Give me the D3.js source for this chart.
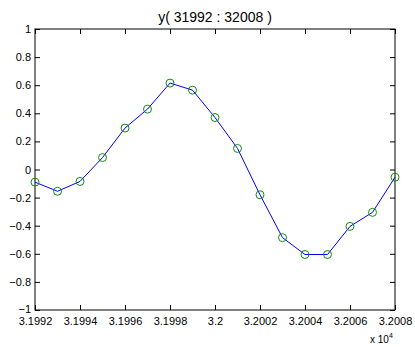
<!DOCTYPE html>
<html>
<head>
<meta charset="utf-8">
<script src="https://cdn.jsdelivr.net/npm/d3@7"></script>
<style>
  html, body { margin: 0; padding: 0; background: #fff; }
  svg { display: block; font-family: "Liberation Sans", Arial, sans-serif; }
</style>
</head>
<body>
<div id="chart"></div>
<script>
// sample index and value
const xs = [31992, 31993, 31994, 31995, 31996, 31997, 31998, 31999, 32000,
            32001, 32002, 32003, 32004, 32005, 32006, 32007, 32008];
const ys = [-0.09, -0.155, -0.085, 0.085, 0.295, 0.43, 0.615, 0.565, 0.37,
            0.15, -0.18, -0.485, -0.605, -0.605, -0.405, -0.305, -0.055];
const xTicks = [31992, 31994, 31996, 31998, 32000, 32002, 32004, 32006, 32008];
const yTicks = [-1, -0.8, -0.6, -0.4, -0.2, 0, 0.2, 0.4, 0.6, 0.8, 1];
const titleText = "y( 31992 : 32008 )";

const width = 415, height = 347;
const margin = { top: 29, right: 20, bottom: 37, left: 35 };

const svg = d3.select("#chart").append("svg")
  .attr("width", width)
  .attr("height", height);

const x = d3.scaleLinear()
  .domain([31992, 32008])
  .range([margin.left, width - margin.right]);

const y = d3.scaleLinear()
  .domain([-1, 1])
  .range([height - margin.bottom, margin.top]);

// matlab style minus sign
const fmtY = d => (d < 0 ? "\u2212" : "") + d3.format("")(Math.abs(+d.toFixed(1)));
const fmtX = d => String(+(d / 1e4).toFixed(4));

const tickLen = 5;
const fontSize = 11;

// bottom axis
svg.append("g")
  .attr("transform", `translate(0,${y(-1)})`)
  .call(d3.axisBottom(x).tickValues(xTicks).tickFormat(fmtX).tickSizeInner(-tickLen).tickSizeOuter(0).tickPadding(5))
  .call(g => g.select(".domain").remove())
  .call(g => g.selectAll("text").attr("font-size", fontSize).attr("fill", "#000").attr("dy", "0.9em"));

// top axis ticks
svg.append("g")
  .attr("transform", `translate(0,${y(1)})`)
  .call(d3.axisTop(x).tickValues(xTicks).tickFormat("").tickSizeInner(-tickLen).tickSizeOuter(0))
  .call(g => g.select(".domain").remove());

// left axis
svg.append("g")
  .attr("transform", `translate(${x(31992)},0)`)
  .call(d3.axisLeft(y).tickValues(yTicks).tickFormat(fmtY).tickSizeInner(-tickLen).tickSizeOuter(0).tickPadding(4))
  .call(g => g.select(".domain").remove())
  .call(g => g.selectAll("text").attr("font-size", fontSize).attr("fill", "#000"))
  .call(g => g.selectAll(".tick").filter(d => d === -1).select("text").attr("dy", "0.2em"));

// right axis ticks
svg.append("g")
  .attr("transform", `translate(${x(32008)},0)`)
  .call(d3.axisRight(y).tickValues(yTicks).tickFormat("").tickSizeInner(-tickLen).tickSizeOuter(0))
  .call(g => g.select(".domain").remove());

svg.selectAll(".tick line").attr("stroke", "#000");

// box
svg.append("rect")
  .attr("x", x(31992))
  .attr("y", y(1))
  .attr("width", x(32008) - x(31992))
  .attr("height", y(-1) - y(1))
  .attr("fill", "none")
  .attr("stroke", "#000")
  .attr("stroke-width", 1);

const data = xs.map((d, i) => ({ x: d, y: ys[i] }));

// line
svg.append("path")
  .datum(data)
  .attr("fill", "none")
  .attr("stroke", "#0000ff")
  .attr("stroke-width", 1)
  .attr("d", d3.line().x(d => x(d.x)).y(d => y(d.y)));

// markers
svg.append("g")
  .selectAll("circle")
  .data(data)
  .enter()
  .append("circle")
  .attr("cx", d => x(d.x))
  .attr("cy", d => y(d.y))
  .attr("r", 4)
  .attr("fill", "none")
  .attr("stroke", "#118c11")
  .attr("stroke-width", 1);

// title
svg.append("text")
  .attr("x", (x(31992) + x(32008)) / 2)
  .attr("y", 22)
  .attr("text-anchor", "middle")
  .attr("font-size", 14)
  .attr("fill", "#000")
  .text(titleText);

// exponent label
const expo = svg.append("text")
  .attr("x", x(32008) - 25)
  .attr("y", 343)
  .attr("font-size", 10)
  .attr("fill", "#000");
expo.append("tspan").text("x 10");
expo.append("tspan").attr("dy", -5).attr("font-size", 7).text("4");
</script>
</body>
</html>
